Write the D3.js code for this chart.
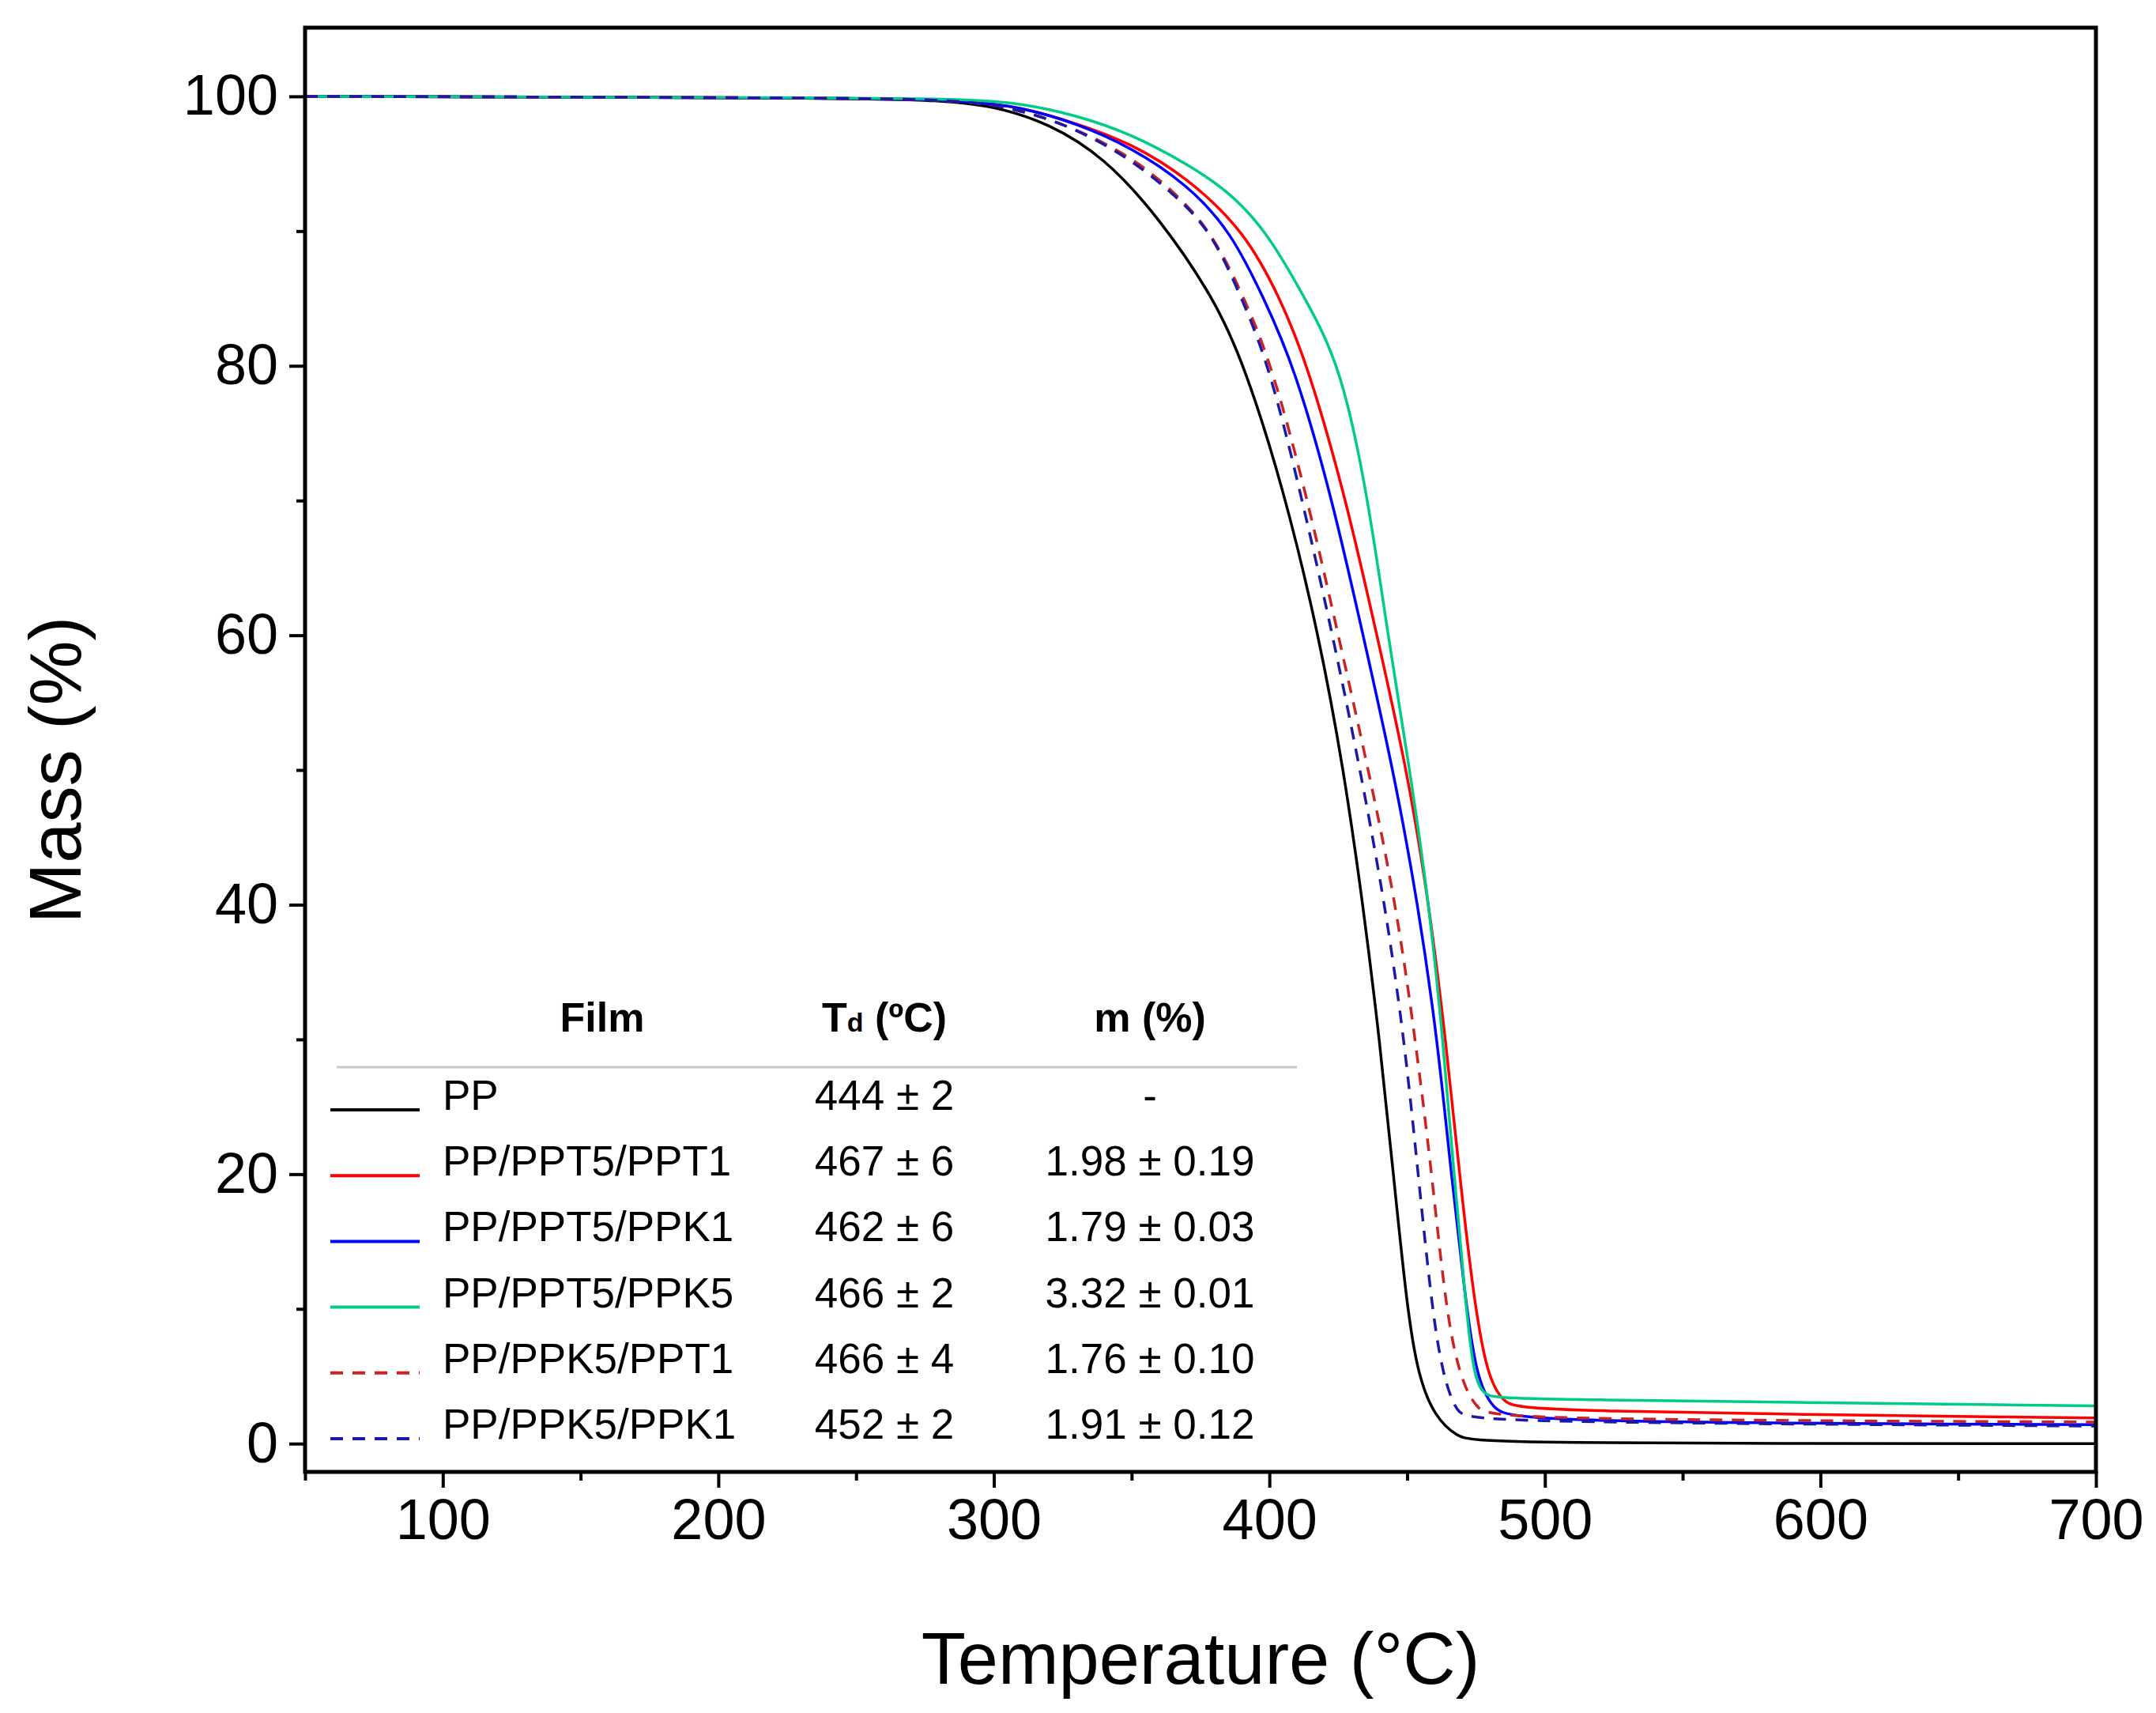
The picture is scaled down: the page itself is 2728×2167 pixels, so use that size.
<!DOCTYPE html>
<html><head><meta charset="utf-8">
<script src="https://cdn.jsdelivr.net/npm/d3@7"></script>
<style>body{margin:0;background:#fff}text{font-family:"Liberation Sans",Arial,sans-serif}</style>
</head><body><div id="chart"></div>
<script>
// [temperature, mass]
var ppData = [[50,100],[250,99.9],[280,99.7],[300,99.3],[320,98],[340,95.5],[360,91],[380,85],[391,80],[405,71],[418,60],[427,50],[434,40],[440,30],[445,20],[450,10],[454,5],[460,2],[468,0.5],[476,0],[700,0]];
var ppt1Data = [[50,100],[250,99.9],[290,99.7],[310,99.2],[330,98],[350,96.5],[370,94],[391,90],[404,85],[414,80],[428,70],[439,60],[450,50],[458,40],[464,30],[469,20],[474,11],[479,5],[485,3],[492,2.4],[700,1.9]];
var ppk1Data = [[50,100],[250,99.9],[290,99.7],[310,99.2],[330,98],[350,96.2],[370,93.5],[386,90],[398,85],[409,80],[423,70],[434,60],[445,50],[454,40],[461,30],[466,20],[471,11],[475,5],[481,2.5],[490,1.6],[700,1.4]];
var ppk5Data = [[50,100],[250,99.9],[290,99.8],[310,99.5],[330,98.6],[350,97.2],[370,95],[385,93],[399,90],[413,85],[426,80],[436,70],[443,60],[451,50],[458,40],[463,30],[467,20],[471,11],[474,5],[478,3.5],[485,3.3],[700,2.8]];
var k5t1Data = [[50,100],[250,99.9],[290,99.7],[310,99],[330,97.6],[350,95.5],[365,93],[379,90],[391,85],[401,80],[414,70],[425,60],[436,50],[446,40],[453,30],[459,20],[464,10],[469,5],[475,2.5],[483,1.8],[700,1.6]];
var k5k1Data = [[50,100],[250,99.9],[290,99.7],[310,99],[330,97.6],[350,95.3],[365,92.8],[379,90],[390,85],[400,80],[412,70],[423,60],[433,50],[442,40],[449,30],[454,20],[459,10],[463,5],[468,2.2],[474,1.6],[700,1.3]];

var seriesNames = ["PP","PP/PPT5/PPT1","PP/PPT5/PPK1","PP/PPT5/PPK5","PP/PPK5/PPT1","PP/PPK5/PPK1"];
var seriesData = [ppData, ppt1Data, ppk1Data, ppk5Data, k5t1Data, k5k1Data];
var seriesColors = ["#000000","#ff0000","#0000ff","#00cc88","#cc2222","#1a1aa8"];
var seriesDashed = [false,false,false,false,true,true];
var tdValues = ["444 ± 2","467 ± 6","462 ± 6","466 ± 2","466 ± 4","452 ± 2"];
var massValues = ["-","1.98 ± 0.19","1.79 ± 0.03","3.32 ± 0.01","1.76 ± 0.10","1.91 ± 0.12"];
var xTicks = [100,200,300,400,500,600,700];
var yTicks = [0,20,40,60,80,100];

var W = 2728, H = 2167;
var margin = {left: 386, right: 76, top: 35, bottom: 305};
var svg = d3.select("#chart").append("svg").attr("width", W).attr("height", H);

var x = d3.scaleLinear().domain([50, 700]).range([margin.left, W - margin.right]);
var y = d3.scaleLinear().domain([-2.1, 105.1]).range([H - margin.bottom, margin.top]);

var line = d3.line().x(function(d){ return x(d[0]); }).y(function(d){ return y(d[1]); }).curve(d3.curveBasis);

svg.append("defs").append("clipPath").attr("id","clip").append("rect")
    .attr("x", x(50)).attr("y", y(105.1)).attr("width", x(700)-x(50)).attr("height", y(-2.1)-y(105.1));

var g = svg.append("g").attr("clip-path","url(#clip)");
seriesData.forEach(function(data, i) {
    g.append("path").datum(data).attr("d", line)
        .attr("fill","none").attr("stroke", seriesColors[i]).attr("stroke-width", 3.5)
        .attr("stroke-dasharray", seriesDashed[i] ? "16,12" : null);
});

// Axes
svg.append("g").attr("transform","translate(0," + (H - margin.bottom) + ")")
    .call(d3.axisBottom(x).tickValues(xTicks).tickSize(20).tickPadding(14));
svg.append("g").attr("transform","translate(0," + (H - margin.bottom) + ")")
    .call(d3.axisBottom(x).tickValues(d3.range(50,701,100)).tickSize(11).tickFormat(""));
svg.append("g").attr("transform","translate(" + margin.left + ",0)")
    .call(d3.axisLeft(y).tickValues(yTicks).tickSize(20).tickPadding(14));
svg.append("g").attr("transform","translate(" + margin.left + ",0)")
    .call(d3.axisLeft(y).tickValues(d3.range(10,101,20)).tickSize(11).tickFormat(""));
svg.selectAll(".tick line").attr("stroke-width", 4);
svg.selectAll(".domain").remove();
svg.selectAll(".tick text").attr("font-size", 72).attr("fill","#000");

svg.append("rect").attr("x", x(50)).attr("y", y(105.1)).attr("width", x(700)-x(50)).attr("height", y(-2.1)-y(105.1))
    .attr("fill","none").attr("stroke","#000").attr("stroke-width", 5);

svg.append("text").attr("x", (x(50)+x(700))/2).attr("y", 2130).attr("text-anchor","middle")
    .attr("font-size", 92).text("Temperature (°C)");
svg.append("text").attr("transform","translate(102," + y(50) + ") rotate(-90)").attr("text-anchor","middle")
    .attr("font-size", 92).text("Mass (%)");

// Legend table
var lg = svg.append("g");
var hdrY = 1305;
lg.append("text").attr("x", 762).attr("y", hdrY).attr("text-anchor","middle").attr("font-size", 52).attr("font-weight","bold").text("Film");
var td = lg.append("text").attr("x", 1119).attr("y", hdrY).attr("text-anchor","middle").attr("font-size", 52).attr("font-weight","bold");
td.append("tspan").text("T");
td.append("tspan").attr("font-size", 34).text("d");
td.append("tspan").text(" (ºC)");
lg.append("text").attr("x", 1455).attr("y", hdrY).attr("text-anchor","middle").attr("font-size", 52).attr("font-weight","bold").text("m (%)");
lg.append("line").attr("x1", 426).attr("x2", 1641).attr("y1", 1350).attr("y2", 1350).attr("stroke","#c8c8c8").attr("stroke-width", 3);

var rowY = d3.scaleLinear().domain([0, 5]).range([1387, 1803]);
seriesNames.forEach(function(name, i) {
    var ry = rowY(i);
    lg.append("line").attr("x1", 418).attr("x2", 531).attr("y1", ry + 17).attr("y2", ry + 17)
        .attr("stroke", seriesColors[i]).attr("stroke-width", 4)
        .attr("stroke-dasharray", seriesDashed[i] ? "16,12" : null);
    lg.append("text").attr("x", 560).attr("y", ry + 17).attr("font-size", 53).text(name);
    lg.append("text").attr("x", 1119).attr("y", ry + 17).attr("text-anchor","middle").attr("font-size", 53).text(tdValues[i]);
    lg.append("text").attr("x", 1455).attr("y", ry + 17).attr("text-anchor","middle").attr("font-size", 53).text(massValues[i]);
});
</script></body></html>
